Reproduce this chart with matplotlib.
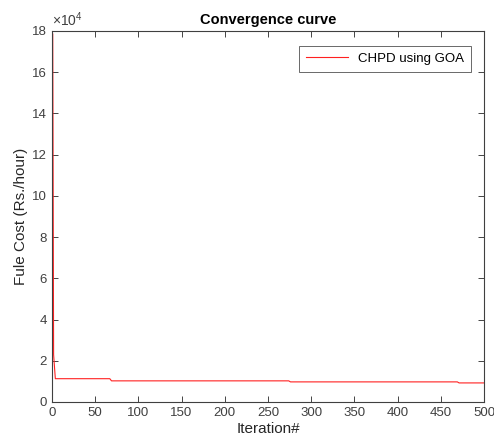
import matplotlib
matplotlib.use("Agg")
import matplotlib.pyplot as plt
from matplotlib.ticker import FuncFormatter

# convergence history (breakpoints)
iterations = [1, 2, 4, 67, 69, 274, 276, 469, 471, 500]
fuel_cost = [178500, 23000, 11300, 11300, 10250, 10250, 9750, 9750, 9250, 9250]

x_ticks = [0, 50, 100, 150, 200, 250, 300, 350, 400, 450, 500]
y_ticks = [0, 20000, 40000, 60000, 80000, 100000, 120000, 140000, 160000, 180000]

plt.rcParams['font.family'] = ['Liberation Sans', 'DejaVu Sans']
plt.rcParams['mathtext.fontset'] = 'custom'
plt.rcParams['mathtext.rm'] = 'Liberation Sans'

fig = plt.figure(figsize=(4.94, 4.47), dpi=100)
ax = fig.add_axes([0.105, 0.1007, 0.875, 0.83])

ax.plot(iterations, fuel_cost, color="#ff2020", lw=0.8, label="CHPD using GOA")

ax.set_xlim(0, 500)
ax.set_ylim(0, 180000)
ax.set_xticks(x_ticks)
ax.set_yticks(y_ticks)
ax.yaxis.set_major_formatter(FuncFormatter(lambda v, p: "%g" % (v / 1e4)))
ax.text(0.0, 1.004, r"$\times$10$^{4}$", transform=ax.transAxes,
        fontsize=10, color="#404040", ha="left", va="bottom")

gray = "#404040"
for s in ax.spines.values():
    s.set_color(gray)
    s.set_linewidth(0.8)
ax.tick_params(direction="in", top=True, right=True, labelsize=9.5,
               colors="#262626", length=4, width=0.6)
ax.tick_params(labelcolor="#404040")

ax.set_title("Convergence curve", fontsize=10.5, fontweight="bold", pad=5)
ax.set_xlabel("Iteration#", fontsize=11, color="#262626", labelpad=2)
ax.set_ylabel("Fule Cost (Rs./hour)", fontsize=11, color="#262626", labelpad=3)

leg = ax.legend(loc="upper right", fancybox=False, edgecolor="#262626",
                fontsize=9.5, handlelength=3.2, borderpad=0.5,
                bbox_to_anchor=(0.985, 0.977))
leg.get_frame().set_linewidth(0.6)

fig.savefig("out.png", dpi=100)
